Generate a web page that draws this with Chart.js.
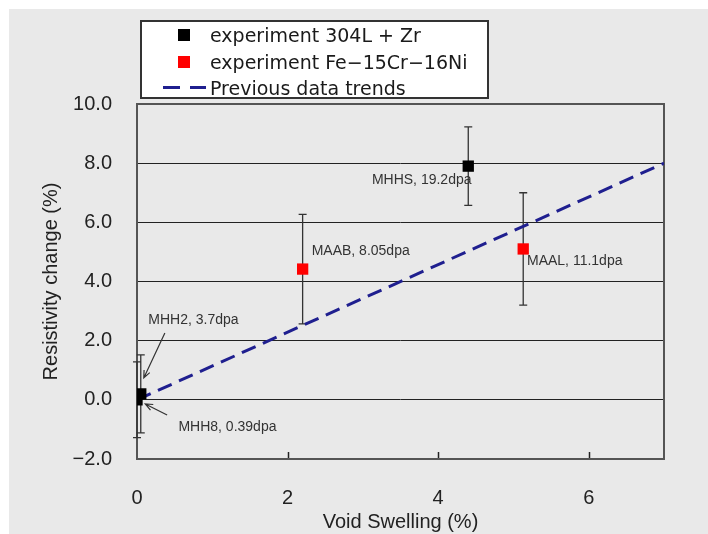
<!DOCTYPE html>
<html>
<head>
<meta charset="utf-8">
<script src="https://cdn.jsdelivr.net/npm/chart.js@4/dist/chart.umd.min.js"></script>
<style>
  html, body { margin: 0; padding: 0; background: #fff; }
  #wrap { position: relative; width: 708px; height: 534px; overflow: hidden; }
  #panel { position: absolute; left: 9px; top: 9px; right: 0; bottom: 0; background: #e9e9e9; }
  #chart { position: absolute; left: 0; top: 0; }
  #legend {
    position: absolute; left: 140px; top: 20px; width: 349px; height: 79px;
    box-sizing: border-box; background: #fff; border: 2px solid #333;
    font: 19px "DejaVu Sans", sans-serif; color: #1a1a1a;
  }
  .row { position: absolute; left: 0; height: 24px; line-height: 24px; }
  .row .txt { position: absolute; left: 68px; white-space: nowrap; top: 0; }
  .sq { position: absolute; left: 36px; top: 6px; width: 12px; height: 12px; }
  .dash { position: absolute; top: 10px; height: 3px; background: #1f1f8f; }
</style>
</head>
<body>
<div id="wrap">
  <div id="panel"></div>
  <canvas id="chart" width="708" height="534"></canvas>
  <div id="legend"></div>
</div>
<script>
'use strict';

// ── Data ──────────────────────────────────────────────────────────
const seriesNames = ['experiment 304L + Zr', 'experiment Fe\u221215Cr\u221216Ni', 'Previous data trends'];

const zrX   = [0, 0.05, 4.4];
const zrY   = [0, 0.2, 7.9];
const zrErr = [1.28, 1.32, 1.33];

const niX   = [2.2, 5.13];
const niY   = [4.42, 5.1];
const niErr = [1.85, 1.9];

const trendX = [0, 7];
const trendY = [0, 8];

const xTickVals   = [0, 2, 4, 6];
const xTickLabels = ['0', '2', '4', '6'];
const yTickVals   = [-2, 0, 2, 4, 6, 8, 10];
const yTickLabels = ['\u22122.0', '0.0', '2.0', '4.0', '6.0', '8.0', '10.0'];

const noteText = ['MHH2, 3.7dpa', 'MHH8, 0.39dpa', 'MHHS, 19.2dpa', 'MAAB, 8.05dpa', 'MAAL, 11.1dpa'];
const noteX    = [0.15, 0.55, 3.12, 2.32, 5.18];
const noteY    = [2.7, -0.91, 7.43, 5.03, 4.7];

// arrows: [fromX, fromY, toX, toY]
const arrows = [
  [0.37, 2.26, 0.09, 0.74],
  [0.40, -0.51, 0.11, -0.14],
];

const NAVY = '#1f1f8f';
const INK  = '#222';

// ── Legend (html) ─────────────────────────────────────────────────
function buildLegend() {
  const el = document.getElementById('legend');
  const rowTops = [1, 28, 54];
  el.innerHTML = seriesNames.map((name, i) => {
    let mark;
    if (i === 0) mark = '<span class="sq" style="background:#000"></span>';
    else if (i === 1) mark = '<span class="sq" style="background:#ff0000"></span>';
    else mark = '<span class="dash" style="left:21px;width:17px"></span><span class="dash" style="left:48px;width:16px"></span>';
    return `<div class="row" style="top:${rowTops[i]}px">${mark}<span class="txt">${name}</span></div>`;
  }).join('');
}

// ── Plugins ───────────────────────────────────────────────────────
const framePlugin = {
  id: 'frame',
  beforeDatasetsDraw(chart) {
    const { ctx, chartArea: a, scales: { x } } = chart;
    ctx.save();
    ctx.strokeStyle = INK;
    ctx.lineWidth = 1.5;
    xTickVals.forEach(v => {
      if (v === 0) return;
      const px = Math.round(x.getPixelForValue(v)) + 0.5;
      ctx.beginPath(); ctx.moveTo(px, a.bottom); ctx.lineTo(px, a.bottom - 7); ctx.stroke();
    });
    ctx.strokeStyle = '#555';
    ctx.lineWidth = 2;
    ctx.strokeRect(a.left, a.top, a.right - a.left, a.bottom - a.top);
    ctx.restore();
  },
};

const errorBarPlugin = {
  id: 'errorBars',
  beforeDatasetsDraw(chart) {
    const { ctx, scales: { x, y } } = chart;
    ctx.save();
    ctx.strokeStyle = '#333';
    ctx.lineWidth = 1.3;
    const draw = (xs, ys, es) => xs.forEach((xv, i) => {
      const px = x.getPixelForValue(xv);
      const top = y.getPixelForValue(ys[i] + es[i]);
      const bot = y.getPixelForValue(ys[i] - es[i]);
      ctx.beginPath();
      ctx.moveTo(px, top); ctx.lineTo(px, bot);
      ctx.moveTo(px - 4, top); ctx.lineTo(px + 4, top);
      ctx.moveTo(px - 4, bot); ctx.lineTo(px + 4, bot);
      ctx.stroke();
    });
    draw(zrX, zrY, zrErr);
    draw(niX, niY, niErr);
    ctx.restore();
  },
};

const notePlugin = {
  id: 'notes',
  afterDatasetsDraw(chart) {
    const { ctx, scales: { x, y } } = chart;
    ctx.save();
    ctx.fillStyle = '#333';
    ctx.font = '14px "Liberation Sans", Arial, sans-serif';
    ctx.textAlign = 'left';
    ctx.textBaseline = 'middle';
    noteText.forEach((t, i) => ctx.fillText(t, x.getPixelForValue(noteX[i]), y.getPixelForValue(noteY[i])));

    ctx.strokeStyle = '#333';
    ctx.lineWidth = 1.2;
    arrows.forEach(([fx, fy, tx, ty]) => {
      const x1 = x.getPixelForValue(fx), y1 = y.getPixelForValue(fy);
      const x2 = x.getPixelForValue(tx), y2 = y.getPixelForValue(ty);
      const ang = Math.atan2(y2 - y1, x2 - x1);
      ctx.beginPath();
      ctx.moveTo(x1, y1); ctx.lineTo(x2, y2);
      ctx.moveTo(x2 - 8 * Math.cos(ang - 0.4), y2 - 8 * Math.sin(ang - 0.4));
      ctx.lineTo(x2, y2);
      ctx.lineTo(x2 - 8 * Math.cos(ang + 0.4), y2 - 8 * Math.sin(ang + 0.4));
      ctx.stroke();
    });
    ctx.restore();
  },
};

// ── Chart ─────────────────────────────────────────────────────────
function initChart() {
  const ctx = document.getElementById('chart').getContext('2d');
  const pts = (xs, ys) => xs.map((v, i) => ({ x: v, y: ys[i] }));
  const tickFont = { family: '"Liberation Sans", Arial, sans-serif', size: 20 };

  new Chart(ctx, {
    type: 'scatter',
    data: {
      datasets: [
        {
          label: seriesNames[0], data: pts(zrX, zrY), order: 0,
          pointStyle: 'rect', pointRadius: 8, pointHoverRadius: 8,
          backgroundColor: '#000', borderColor: '#000', borderWidth: 0,
        },
        {
          label: seriesNames[1], data: pts(niX, niY), order: 0,
          pointStyle: 'rect', pointRadius: 8, pointHoverRadius: 8,
          backgroundColor: '#ff0000', borderColor: '#ff0000', borderWidth: 0,
        },
        {
          label: seriesNames[2], data: pts(trendX, trendY), type: 'line', order: 1,
          borderColor: NAVY, borderWidth: 3, borderDash: [15, 8],
          pointRadius: 0, fill: false, tension: 0,
        },
      ],
    },
    options: {
      responsive: false,
      animation: false,
      layout: { padding: { top: 104, right: 44, left: 0, bottom: 0 } },
      plugins: { legend: { display: false }, tooltip: { enabled: false } },
      scales: {
        x: {
          type: 'linear', min: 0, max: 7,
          afterBuildTicks: s => { s.ticks = xTickVals.map(v => ({ value: v })); },
          afterFit: s => { s.height = 75; },
          ticks: {
            color: INK, font: tickFont, padding: 19, maxRotation: 0, autoSkip: false,
            callback: v => xTickLabels[xTickVals.indexOf(v)],
          },
          grid: { display: false },
          border: { display: false },
          title: {
            display: true, text: 'Void Swelling (%)', color: INK,
            font: { family: '"Liberation Sans", Arial, sans-serif', size: 20 },
            padding: { top: 0, bottom: 0 },
          },
        },
        y: {
          type: 'linear', min: -2, max: 10,
          afterBuildTicks: s => { s.ticks = yTickVals.map(v => ({ value: v })); },
          afterFit: s => { s.width = 137; },
          ticks: {
            color: INK, font: tickFont, padding: 25, autoSkip: false,
            callback: v => yTickLabels[yTickVals.indexOf(v)],
          },
          grid: { color: INK, lineWidth: 1, drawTicks: false },
          border: { display: false },
          title: {
            display: true, text: 'Resistivity change (%)', color: INK,
            font: { family: '"Liberation Sans", Arial, sans-serif', size: 20 },
            padding: { top: 39, bottom: 0 },
          },
        },
      },
    },
    plugins: [framePlugin, errorBarPlugin, notePlugin],
  });
}

document.addEventListener('DOMContentLoaded', () => {
  buildLegend();
  initChart();
});
</script>
</body>
</html>
